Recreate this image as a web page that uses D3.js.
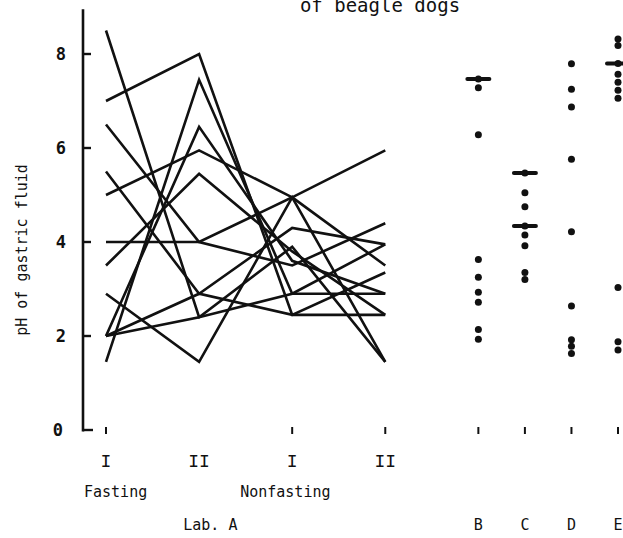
<!DOCTYPE html>
<html><head><meta charset="utf-8">
<script src="https://cdn.jsdelivr.net/npm/d3@7"></script>
<style>html,body{margin:0;padding:0;background:#fff;}svg{display:block;}</style>
</head><body>
<svg id="c" width="623" height="538"></svg>
<script>
// ---- data ----
const slots = ["FI","s1","FII","s2","NFI","s3","NFII","s4","B","C","D","E"];
const conditionsA = ["FI","FII","NFI","NFII"];
const conditionLabels = ["I","II","I","II"];
const groupLabels = ["Fasting","Nonfasting"];
const yTicks = [0,2,4,6,8];
// pH of each beagle dog of Lab. A: Fasting I, Fasting II, Nonfasting I, Nonfasting II
const dogLines = [
  [8.5, 2.4, 2.9, 3.95],
  [7.0, 8.0, 2.45, 2.45],
  [6.5, 4.0, 3.5, 4.4],
  [5.5, 2.9, 4.3, 3.95],
  [5.0, 5.95, 4.95, 5.95],
  [4.0, 4.0, 4.95, 3.5],
  [3.5, 5.45, 3.8, 2.45],
  [2.9, 1.45, 4.95, 1.45],
  [2.0, 6.45, 3.6, 2.9],
  [2.0, 2.9, 2.45, 3.35],
  [2.0, 2.4, 3.9, 1.45],
  [1.45, 7.45, 2.9, 2.9]
];
const labs = ["B","C","D","E"];
const colB = [7.47, 7.28, 6.28, 3.63, 3.25, 2.93, 2.72, 2.14, 1.93];
const colC = [5.47, 5.05, 4.75, 4.34, 4.15, 3.92, 3.35, 3.2];
const colD = [7.79, 7.25, 6.87, 5.76, 4.22, 2.64, 1.92, 1.78, 1.63];
const colE = [8.32, 8.18, 7.8, 7.57, 7.4, 7.23, 7.06, 3.03, 1.88, 1.7];
const barsB = [7.47];
const barsC = [5.47, 4.34];
const barsD = [];
const barsE = [7.8];
const baseTicks = ["FI","NFI","NFII","B","C","D","E"];

// ---- drawing ----
const svg = d3.select("#c");
const x = d3.scalePoint().domain(slots).range([106, 618]);
const y = d3.scaleLinear().domain([0, 8]).range([430, 54]);
const mono = "DejaVu Sans Mono";
const ink = "#111";

// title (cut off at top, as in the scan)
svg.append("text").attr("x", 380).attr("y", 12).attr("text-anchor","middle")
  .attr("font-family", mono).attr("font-size", 19).attr("fill", ink).text("of beagle dogs");

// y axis
const axisX = 83;
svg.append("line").attr("x1",axisX).attr("x2",axisX).attr("y1",y(8.95)).attr("y2",y(0)+1.5)
  .attr("stroke",ink).attr("stroke-width",2.6);
svg.append("line").attr("x1",axisX).attr("x2",axisX+10).attr("y1",y(0)).attr("y2",y(0))
  .attr("stroke",ink).attr("stroke-width",2.4);
svg.selectAll(".yt").data(yTicks.filter(d=>d>0)).join("line")
  .attr("x1",axisX).attr("x2",axisX+8).attr("y1",d=>y(d)).attr("y2",d=>y(d))
  .attr("stroke",ink).attr("stroke-width",2.4);
svg.selectAll(".yl").data(yTicks).join("text")
  .attr("x", d=> d===0 ? 63 : 66).attr("y", d=>y(d)+6).attr("text-anchor","end")
  .attr("font-family", mono).attr("font-size", 17).attr("font-weight","bold")
  .attr("fill", ink).text(d=>d);

// y label
svg.append("text").attr("transform","translate(27,250) rotate(-90)").attr("text-anchor","middle")
  .attr("font-family", mono).attr("font-size", 15).attr("fill", ink).text("pH of gastric fluid");

// baseline ticks
svg.selectAll(".bt").data(baseTicks).join("line")
  .attr("x1",d=>x(d)).attr("x2",d=>x(d)).attr("y1",y(0)-3).attr("y2",y(0)+4)
  .attr("stroke",ink).attr("stroke-width",2);

// lines of Lab. A
const line = d3.line().x((d,i)=>x(conditionsA[i])).y(d=>y(d));
svg.selectAll(".dog").data(dogLines).join("path")
  .attr("d", line).attr("fill","none").attr("stroke",ink)
  .attr("stroke-width",2.6).attr("stroke-linejoin","miter");

// dot columns B-E
const cols = [colB, colC, colD, colE];
const bars = [barsB, barsC, barsD, barsE];
labs.forEach((lab, k) => {
  svg.selectAll(".dot"+lab).data(cols[k]).join("circle")
    .attr("cx", x(lab)).attr("cy", d=>y(d)).attr("r", 3.5).attr("fill", ink);
  svg.selectAll(".bar"+lab).data(bars[k]).join("line")
    .attr("x1", x(lab)-11).attr("x2", x(lab)+11).attr("y1", d=>y(d)).attr("y2", d=>y(d))
    .attr("stroke", ink).attr("stroke-width", 4).attr("stroke-linecap","round");
});

// x labels
svg.selectAll(".xl").data(conditionsA).join("text")
  .attr("x", d=>x(d)).attr("y", 467).attr("text-anchor","middle")
  .attr("font-family","Liberation Mono").attr("font-size",18).attr("fill",ink)
  .text((d,i)=>conditionLabels[i]);
svg.append("text").attr("x", x("FI")-22).attr("y", 497)
  .attr("font-family", mono).attr("font-size", 15).attr("fill", ink).text(groupLabels[0]);
svg.append("text").attr("x", x("NFI")-52).attr("y", 497)
  .attr("font-family", mono).attr("font-size", 15).attr("fill", ink).text(groupLabels[1]);
svg.append("text").attr("x", (x("FII")+x("s2"))/2-12).attr("y", 530).attr("text-anchor","middle")
  .attr("font-family", mono).attr("font-size", 15).attr("fill", ink).text("Lab. A");
svg.selectAll(".ll").data(labs).join("text")
  .attr("x", d=>x(d)).attr("y", 530).attr("text-anchor","middle")
  .attr("font-family", mono).attr("font-size", 15).attr("fill", ink).text(d=>d);
</script>
</body></html>
